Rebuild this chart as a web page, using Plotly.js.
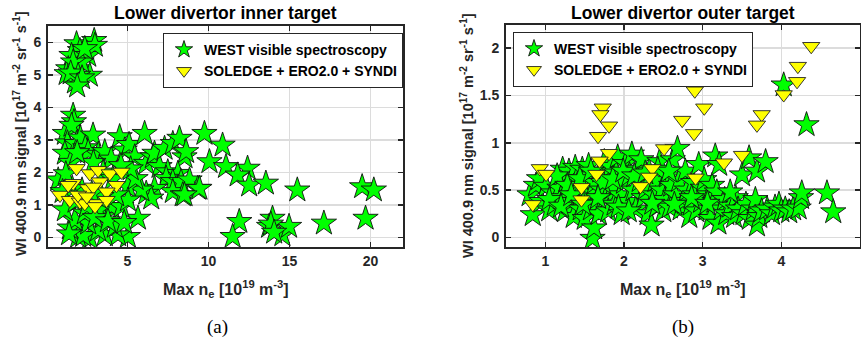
<!DOCTYPE html>
<html>
<head>
<meta charset="utf-8">
<script src="https://cdn.plot.ly/plotly-3.0.1.min.js"></script>
<style>
  html, body { margin: 0; padding: 0; background: #fff; }
  #chart { width: 861px; height: 355px; }
</style>
</head>
<body>
<div id="chart"></div>
<script>
// ---- Lower divertor inner target ----
const innerMeasNe = [
  1.86, 2.95, 2.07, 1.55, 2.58, 1.35, 1.96, 2.68, 1.76, 1.25, 2.99, 2.17, 1.65, 2.37, 1.96, 1.5, 2.2, 1.9,
  1.65, 1.7,
  0.73, 1.14, 1.55, 1.3, 1.86, 2.1, 2.88, 2.4, 1.14, 1.5, 2.58, 3.2, 3.6, 4.0, 4.52, 4.83, 5.1, 5.45,
  6.06, 6.16, 6.57, 6.67, 6.98, 7.29, 7.49, 7.8, 8.21, 8.52, 8.62, 8.11, 7.39, 7.8, 8.31, 8.83, 9.34,
  7.8, 8.41, 6.67, 6.16, 6.47, 5.86, 5.03, 5.5, 5.2, 4.6, 5.65, 5.03, 4.42, 3.6, 2.68, 1.96, 2.27, 1.45,
  3.19, 4.22, 3.5, 2.58, 1.76, 1.14, 2.37, 3.19, 4.01, 4.63, 5.03, 4.3, 3.4, 2.8, 2.2, 1.6, 1.2, 1.0,
  1.8, 2.5, 3.0, 3.8, 4.8, 1.4, 2.9, 3.5, 4.1, 1.9,
  9.75, 10.87, 10.06, 11.08, 12.41, 11.8, 12.51, 13.54, 15.48, 19.48, 20.2, 19.69, 17.12, 11.9, 11.49,
  13.95, 13.74, 14.56, 14.97, 13.85, 14.05, 9.44, 8.52
];
const innerMeasSignal = [
  5.95, 6.05, 5.74, 5.59, 5.59, 5.18, 5.18, 4.98, 4.77, 5.03, 5.9, 5.39, 5.39, 5.8, 4.98, 5.05, 4.9, 4.65,
  3.75, 3.55,
  1.76, 3.19, 3.44, 2.9, 2.88, 3.05, 3.14, 2.75, 2.58, 2.3, 2.63, 2.55, 2.63, 2.4, 3.09, 2.68, 2.85, 2.47,
  3.19, 2.27, 2.47, 2.58, 2.17, 2.73, 2.01, 2.88, 3.04, 2.47, 2.63, 1.96, 1.81, 1.71, 1.71, 1.76, 1.5,
  1.4, 1.3, 1.5, 1.35, 1.2, 1.45, 1.55, 1.8, 2.1, 2.2, 0.58, 0.02, 0.07, 0.07, -0.03, 0.02, 0.05, 0.28,
  0.22, 0.33, 0.63, 0.43, 0.53, 0.84, 0.74, 0.84, 0.94, 0.94, 1.14, 1.3, 1.25, 1.35, 1.45, 1.5, 1.95, 1.4,
  1.1, 0.95, 0.6, 0.5, 0.45, 0.1, 2.3, 2.0, 1.8, 2.6,
  3.19, 2.83, 2.32, 2.17, 2.12, 1.91, 1.6, 1.66, 1.45, 1.55, 1.45, 0.58, 0.43, 0.48, 0.02,
  0.58, 0.33, 0.07, 0.33, 0.4, 0.15, 1.5, 1.3
];
const innerSimNe = [
  1.86, 2.68, 3.19, 3.91, 4.63, 1.65, 2.58, 3.29, 4.32, 3.71, 0.84, 1.45, 2.07, 2.37, 3.09, 3.71,
  3.0, 1.35, 2.9, 1.95, 2.5
];
const innerSimSignal = [
  2.12, 1.96, 2.06, 1.96, 2.01, 1.66, 1.5, 1.71, 1.6, 1.4, 1.3, 1.14, 1.09, 1.04, 1.04, 1.14,
  0.95, 1.6, 1.55, 1.3, 1.25
];

// ---- Lower divertor outer target ----
const outerMeasNe = [
  0.84, 0.8, 0.88, 0.92, 0.95, 1.01, 1.05, 1.1, 1.12, 1.18, 1.2, 1.22, 1.25, 1.27, 1.3, 1.32, 1.35, 1.36,
  1.38, 1.4, 1.42, 1.45, 1.47, 1.5, 1.5, 1.52, 1.55, 1.57, 1.58, 1.6, 1.6, 1.62, 1.63, 1.65, 1.68, 1.7,
  1.72, 1.75, 1.77, 1.8, 1.8, 1.83, 1.85, 1.88, 1.9, 1.92, 1.95, 1.97, 2.0, 2.02, 2.05, 2.07, 2.1, 2.12,
  2.15, 2.18, 2.2, 2.22, 2.25, 2.28, 2.3, 2.32, 2.35, 2.38, 2.4, 2.42, 2.45, 2.48, 2.5, 2.52, 2.55, 2.58,
  2.6, 2.62, 2.65, 2.68, 2.7, 2.72, 2.75, 2.78, 2.8, 2.83, 2.85, 2.88, 2.9, 2.92, 2.95, 2.98, 3.0, 3.02,
  3.05, 3.08, 3.1, 3.12, 3.15, 3.16, 3.18, 3.2, 3.21, 3.24, 3.28, 3.3, 3.35, 3.4, 3.42, 3.45, 3.5, 3.52,
  3.55, 3.59, 3.6, 3.65, 3.67, 3.69, 3.69, 3.72, 3.75, 3.8, 3.82, 3.88, 3.92, 3.97, 4.0, 4.05, 4.1, 4.15,
  4.22, 4.25, 4.26, 4.58, 4.66, 4.03, 4.32,
  1.15, 1.28, 1.44, 1.58, 1.73, 1.86, 1.99, 2.13, 2.27, 2.43, 2.57, 1.05, 1.2, 1.33, 1.48, 1.67, 1.93,
  2.06, 2.36, 2.64, 2.86, 3.06, 3.35
];
const outerMeasSignal = [
  0.24, 0.45, 0.55, 0.62, 0.38, 0.54, 0.29, 0.47, 0.35, 0.52, 0.42, 0.72, 0.28, 0.6, 0.7, 0.38, 0.5, 0.22,
  0.74, 0.62, 0.45, 0.3, 0.72, 0.55, 0.2, 0.4, 0.76, 0.65, 0.3, 0.48, -0.01, 0.1, 0.58, 0.36, 0.25, 0.7,
  0.5, 0.8, 0.42, 0.62, 0.28, 0.75, 0.52, 0.35, 0.68, 0.85, 0.45, 0.25, 0.58, 0.78, 0.38, 0.66, 0.88, 0.5,
  0.3, 0.72, 0.6, 0.82, 0.42, 0.52, 0.25, 0.7, 0.13, 0.45, 0.6, 0.33, 0.8, 0.5, 0.28, 0.4, 0.65, 0.32,
  0.55, 0.82, 0.45, 0.94, 0.6, 0.3, 0.38, 0.7, 0.5, 0.22, 0.35, 0.58, 0.45, 0.28, 0.77, 0.38, 0.52, 0.61,
  0.3, 0.45, 0.2, 0.55, 0.38, 0.86, 0.48, 0.15, 0.77, 0.3, 0.4, 0.25, 0.33, 0.22, 0.42, 0.3, 0.66, 0.25,
  0.35, 0.84, 0.2, 0.3, 0.4, 0.7, 0.13, 0.22, 0.28, 0.8, 0.3, 0.25, 0.32, 0.35, 0.28, 0.3, 0.27, 0.3,
  0.31, 0.42, 0.47, 0.47, 0.27, 1.61, 1.19,
  0.65, 0.55, 0.62, 0.7, 0.58, 0.62, 0.7, 0.65, 0.68, 0.72, 0.7, 0.4, 0.33, 0.45, 0.35, 0.42, 0.32,
  0.28, 0.36, 0.35, 0.42, 0.36, 0.48
];
const outerSimNe = [
  4.38, 4.21, 4.2, 4.03, 3.1, 2.9, 3.02, 2.74, 2.89, 3.75, 3.69, 1.73, 1.7, 1.81, 1.67,
  2.51, 1.81, 1.69, 1.65, 0.93, 1.01, 0.84, 1.46, 1.46, 2.21, 2.36, 2.32, 2.91, 3.27, 3.5
];
const outerSimSignal = [
  2.02, 1.81, 1.65, 1.51, 1.74, 1.55, 1.37, 1.24, 1.1, 1.3, 1.19, 1.37, 1.3, 1.18, 1.07,
  0.94, 0.89, 0.81, 0.67, 0.73, 0.67, 0.35, 0.53, 0.4, 0.54, 0.73, 0.64, 0.63, 0.79, 0.87
];

// Tick positions and labels
const innerXTicks = [5, 10, 15, 20];
const innerYTicks = [0, 1, 2, 3, 4, 5, 6];
const outerXTicks = [1, 2, 3, 4, 5];
const outerYTicks = [0, 0.5, 1, 1.5, 2];
const outerYLabels = ['0', '0.5', '1', '1.5', '2'];

const xTitle = '<b>Max n<sub>e</sub> [10<sup>19</sup> m<sup>-3</sup>]</b>';
const yTitle = '<b>WI 400.9 nm signal [10<sup>17</sup> m<sup>-2</sup> sr<sup>-1</sup> s<sup>-1</sup>]</b>';
const measName = '<b>WEST visible spectroscopy</b>';
const simName = '<b>SOLEDGE + ERO2.0 + SYNDI</b>';

const sans = 'Liberation Sans, Arial, sans-serif';
const bold = t => '<b>' + t + '</b>';

const starMarker = { symbol: 'star', size: 19, color: '#00ff00', line: { color: '#111', width: 0.9 } };
const triMarker = { symbol: 'triangle-down', size: 15, color: '#ffff00', line: { color: '#222', width: 0.9 } };
const starKey = { symbol: 'star', size: 13, color: '#00ff00', line: { color: '#111', width: 0.9 } };
const triKey = { symbol: 'triangle-down', size: 13, color: '#ffff00', line: { color: '#222', width: 0.9 } };

function scatter(x, y, marker, xa, ya) {
  return { x: x, y: y, type: 'scatter', mode: 'markers', marker: marker,
           xaxis: xa, yaxis: ya, showlegend: false, hoverinfo: 'skip' };
}
// legend keys: no data, only a symbol and a name
function key(name, marker, xa, ya, legendId) {
  return { x: [null], y: [null], type: 'scatter', mode: 'markers', name: name, marker: marker,
           xaxis: xa, yaxis: ya, legend: legendId, showlegend: true };
}

const traces = [
  scatter(innerMeasNe, innerMeasSignal, starMarker, 'x', 'y'),
  scatter(innerSimNe, innerSimSignal, triMarker, 'x', 'y'),
  scatter(outerMeasNe, outerMeasSignal, starMarker, 'x2', 'y2'),
  scatter(outerSimNe, outerSimSignal, triMarker, 'x2', 'y2'),
  key(measName, starKey, 'x', 'y', 'legend'),
  key(simName, triKey, 'x', 'y', 'legend'),
  key(measName, starKey, 'x2', 'y2', 'legend2'),
  key(simName, triKey, 'x2', 'y2', 'legend2')
];

function axis(extra) {
  return Object.assign({
    showline: true, linecolor: '#262626', linewidth: 2, mirror: 'ticks',
    ticks: 'inside', ticklen: 5, tickwidth: 1.5, tickcolor: '#262626',
    showgrid: true, gridcolor: '#dcdcdc', gridwidth: 1.5, zeroline: false,
    tickfont: { family: sans, size: 14, color: '#262626' },
    tickmode: 'array', fixedrange: true
  }, extra);
}

const legendBase = {
  bgcolor: '#ffffff', bordercolor: '#262626', borderwidth: 1,
  font: { family: sans, size: 14, color: '#000' },
  xanchor: 'left', yanchor: 'top', tracegroupgap: 0, itemwidth: 30
};

function note(text, px, py, size, extra) {
  return Object.assign({
    text: text, x: px / 861, y: 1 - py / 355, xref: 'paper', yref: 'paper',
    showarrow: false, xanchor: 'center', yanchor: 'middle',
    font: { family: sans, size: size, color: '#000' }
  }, extra || {});
}

const layout = {
  width: 861, height: 355,
  margin: { l: 0, r: 0, t: 0, b: 0 },
  paper_bgcolor: '#ffffff', plot_bgcolor: '#ffffff',
  showlegend: true,
  xaxis: axis({ domain: [48 / 861, 403 / 861], range: [0.1, 22], anchor: 'y',
                tickvals: innerXTicks, ticktext: innerXTicks.map(v => bold(v)) }),
  yaxis: axis({ domain: [1 - 247 / 355, 1 - 26 / 355], range: [-0.3, 6.5], anchor: 'x',
                tickvals: innerYTicks, ticktext: innerYTicks.map(v => bold(v)), ticklabelstandoff: 2 }),
  xaxis2: axis({ domain: [506 / 861, 860 / 861], range: [0.5, 5], anchor: 'y2',
                 tickvals: outerXTicks, ticktext: outerXTicks.map(v => bold(v)) }),
  yaxis2: axis({ domain: [1 - 247 / 355, 1 - 24.5 / 355], range: [-0.1, 2.25], anchor: 'x2',
                 tickvals: outerYTicks, ticktext: outerYLabels.map(bold), ticklabelstandoff: 2 }),
  legend: Object.assign({ x: 163 / 861, y: 1 - 33 / 355 }, legendBase),
  legend2: Object.assign({ x: 513 / 861, y: 1 - 32 / 355 }, legendBase),
  annotations: [
    note('<b>Lower divertor inner target</b>', 225.5, 13, 17.5),
    note('<b>Lower divertor outer target</b>', 683, 13, 17.5),
    note(xTitle, 225.5, 289, 16, { font: { family: sans, size: 16, color: '#262626' } }),
    note(xTitle, 683, 289, 16, { font: { family: sans, size: 16, color: '#262626' } }),
    note(yTitle, 20, 134, 14.5, { textangle: -90, font: { family: sans, size: 14.5, color: '#262626' } }),
    note(yTitle, 467, 136, 14.5, { textangle: -90, font: { family: sans, size: 14.5, color: '#262626' } }),
    note('(a)', 218, 327, 19, { font: { family: 'Liberation Serif, serif', size: 19, color: '#000' } }),
    note('(b)', 683, 327, 19, { font: { family: 'Liberation Serif, serif', size: 19, color: '#000' } })
  ]
};

Plotly.newPlot('chart', traces, layout, { staticPlot: true, displayModeBar: false });
</script>
</body>
</html>
